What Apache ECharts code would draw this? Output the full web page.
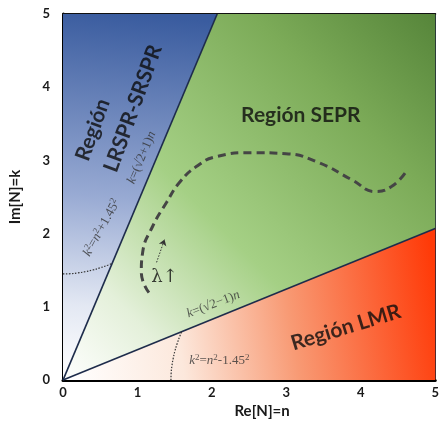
<!DOCTYPE html>
<html>
<head>
<meta charset="utf-8">
<script src="https://cdn.jsdelivr.net/npm/echarts@6/dist/echarts.min.js"></script>
<style>
  html, body { margin: 0; padding: 0; background: #ffffff; }
  #chart { width: 442px; height: 424px; }
</style>
</head>
<body>
<div id="chart"></div>
<script>
// Axis ticks
const nTicks = [0, 1, 2, 3, 4, 5];
const kTicks = [0, 1, 2, 3, 4, 5];

// Region boundaries k=(√2+1)n and k=(√2−1)n, clipped to the 5×5 window
const upperLine = [[0, 0], [2.071, 5]];
const lowerLine = [[0, 0], [5, 2.071]];

// Filled regions (vertices in (n, k))
const lrsprRegion = [[0, 0], [0, 5], [2.071, 5]];
const seprRegion = [[0, 0], [2.071, 5], [5, 5], [5, 2.071]];
const lmrRegion = [[0, 0], [5, 2.071], [5, 0]];

// Dotted arcs k²=n²+1.45² and k²=n²−1.45² up to the boundary lines
const arcPlusN = [0, 0.1, 0.2, 0.3, 0.4, 0.5, 0.6, 0.66];
const arcPlusK = [1.45, 1.453, 1.464, 1.481, 1.504, 1.534, 1.569, 1.593];
const arcMinusN = [1.45, 1.453, 1.464, 1.481, 1.504, 1.534, 1.569, 1.593];
const arcMinusK = [0, 0.1, 0.2, 0.3, 0.4, 0.5, 0.6, 0.66];

// Refractive-index trajectory as the wavelength grows
const pathN = [1.154, 1.052, 1.070, 1.203, 1.390, 1.564, 1.791, 2.059, 2.540, 2.995, 3.436, 3.877, 4.198, 4.412, 4.599];
const pathK = [1.195, 1.471, 1.744, 2.098, 2.425, 2.698, 2.916, 3.052, 3.106, 3.093, 2.970, 2.738, 2.575, 2.643, 2.834];

// Wavelength arrow
const arrowFrom = [1.257, 1.608];
const arrowTo = [1.364, 1.921];

const zip = (a, b) => a.map((v, i) => [v, b[i]]);

function regionSeries(name, pts, fill) {
  return {
    name: name,
    type: 'custom',
    xAxisIndex: 0, yAxisIndex: 0,
    silent: true,
    z: 1,
    data: [0],
    renderItem: function (params, api) {
      return {
        type: 'polygon',
        shape: { points: pts.map(p => api.coord(p)) },
        style: { fill: fill, stroke: null }
      };
    }
  };
}

const serif = '"Liberation Serif", "DejaVu Serif", serif';
const sans = 'Lato, "Open Sans", sans-serif';

function note(pos, text, rotate, style) {
  return {
    value: pos,
    label: Object.assign({
      show: true, position: 'inside', formatter: text, rotate: rotate,
      fontFamily: serif, fontSize: 13, color: '#333',
      rich: {
        i: { fontFamily: serif, fontStyle: 'italic', fontSize: 13, color: '#333' },
        s: { fontFamily: serif, fontSize: 9, color: '#333', verticalAlign: 'top', padding: [0, 0, 6, 0] }
      }
    }, style || {})
  };
}

function title(pos, text, rotate, size) {
  return {
    value: pos,
    label: {
      show: true, position: 'inside', formatter: text, rotate: rotate,
      fontFamily: sans, fontWeight: 'bold', fontSize: size, color: '#0d0d0d'
    }
  };
}

const chart = echarts.init(document.getElementById('chart'), null, { renderer: 'canvas' });

const axisText = { fontFamily: sans, fontWeight: 'bold', fontSize: 13, color: '#1a1a1a' };

chart.setOption({
  animation: false,
  backgroundColor: '#ffffff',
  grid: { left: 63, top: 14, right: 5, bottom: 42, containLabel: false },
  xAxis: [{
    type: 'value', min: nTicks[0], max: nTicks[nTicks.length - 1], interval: 1,
    name: 'Re[N]=n', nameLocation: 'middle', nameGap: 19,
    nameTextStyle: { fontFamily: sans, fontWeight: 'bold', fontSize: 15, color: '#1a1a1a', padding: [0, 0, 0, 26] },
    axisLine: { show: true, onZero: false, lineStyle: { color: '#000', width: 3 } },
    axisTick: { show: false }, splitLine: { show: false },
    axisLabel: Object.assign({ margin: 6 }, axisText)
  }, {
    type: 'value', position: 'top', min: 0, max: 5,
    axisLine: { show: true, onZero: false, lineStyle: { color: '#111', width: 2 } },
    axisTick: { show: false }, splitLine: { show: false }, axisLabel: { show: false }
  }],
  yAxis: [{
    type: 'value', min: kTicks[0], max: kTicks[kTicks.length - 1], interval: 1,
    name: 'Im[N]=k', nameLocation: 'middle', nameGap: 40, nameRotate: 90,
    nameTextStyle: { fontFamily: sans, fontWeight: 'bold', fontSize: 15, color: '#1a1a1a' },
    axisLine: { show: true, onZero: false, lineStyle: { color: '#000', width: 3 } },
    axisTick: { show: false }, splitLine: { show: false },
    axisLabel: Object.assign({ margin: 13 }, axisText)
  }, {
    type: 'value', position: 'right', min: 0, max: 5,
    axisLine: { show: true, onZero: false, lineStyle: { color: '#1a2236', width: 2 } },
    axisTick: { show: false }, splitLine: { show: false }, axisLabel: { show: false }
  }],
  series: [
    regionSeries('LRSPR-SRSPR', lrsprRegion, {
      type: 'linear', x: 0.2, y: 1, x2: 0.4, y2: 0,
      colorStops: [
        { offset: 0, color: '#ffffff' },
        { offset: 0.2, color: '#e3e8f3' },
        { offset: 0.5, color: '#98aad3' },
        { offset: 1, color: '#3a5c9f' }
      ]
    }),
    regionSeries('SEPR', seprRegion, {
      type: 'linear', x: 0, y: 1, x2: 1, y2: 0,
      colorStops: [
        { offset: 0, color: '#ffffff' },
        { offset: 0.18, color: '#e4f0da' },
        { offset: 0.42, color: '#a5d085' },
        { offset: 0.75, color: '#7cab58' },
        { offset: 1, color: '#56853a' }
      ]
    }),
    regionSeries('LMR', lmrRegion, {
      type: 'linear', x: 0, y: 0.7, x2: 1, y2: 0.3,
      colorStops: [
        { offset: 0, color: '#ffffff' },
        { offset: 0.3, color: '#fce8dc' },
        { offset: 0.6, color: '#f89a74' },
        { offset: 1, color: '#ff3a08' }
      ]
    }),
    {
      name: 'upper', type: 'line', data: upperLine, symbol: 'none', silent: true, z: 3,
      lineStyle: { color: '#1e2c4b', width: 1.6 }
    },
    {
      name: 'lower', type: 'line', data: lowerLine, symbol: 'none', silent: true, z: 3,
      lineStyle: { color: '#1e2c4b', width: 1.6 }
    },
    {
      name: 'arcPlus', type: 'line', data: zip(arcPlusN, arcPlusK), symbol: 'none', smooth: true, silent: true, z: 3,
      lineStyle: { color: '#333', width: 1.2, type: [1.5, 1.5] }
    },
    {
      name: 'arcMinus', type: 'line', data: zip(arcMinusN, arcMinusK), symbol: 'none', smooth: true, silent: true, z: 3,
      lineStyle: { color: '#333', width: 1.2, type: [1.5, 1.5] }
    },
    {
      name: 'path', type: 'line', data: zip(pathN, pathK), symbol: 'none', smooth: 0.5, silent: true, z: 4,
      lineStyle: { color: '#454545', width: 3, type: [8, 5] }
    },
    {
      name: 'arrow', type: 'lines', coordinateSystem: 'cartesian2d', silent: true, z: 4,
      symbol: ['none', 'arrow'], symbolSize: 6,
      lineStyle: { color: '#333', width: 1, type: [1.5, 1.5], opacity: 1 },
      data: [{ coords: [arrowFrom, arrowTo] }]
    },
    {
      name: 'notes', type: 'scatter', symbolSize: 0, silent: true, z: 5,
      data: [
        title([3.195, 3.624], 'Región SEPR', 0, 21),
        title([3.80, 0.72], 'Región LMR', 17, 21),
        title([0.40, 3.42], 'Región', 70, 21),
        title([0.94, 3.71], 'LRSPR-SRSPR', 70, 21),
        note([1.056, 3.04], '{i|k}=(√2+1){i|n}', 67),
        note([0.52, 2.08], '{i|k}{s|2}={i|n}{s|2}+1.45{s|2}', 61),
        note([2.02, 1.035], '{i|k}=(√2−1){i|n}', 21),
        note([2.10, 0.26], '{i|k}{s|2}={i|n}{s|2}-1.45{s|2}', 0),
        note([1.364, 1.40], 'λ↑', 0, { fontSize: 18, color: '#111', fontFamily: '"DejaVu Serif", serif' })
      ]
    }
  ]
});
</script>
</body>
</html>
